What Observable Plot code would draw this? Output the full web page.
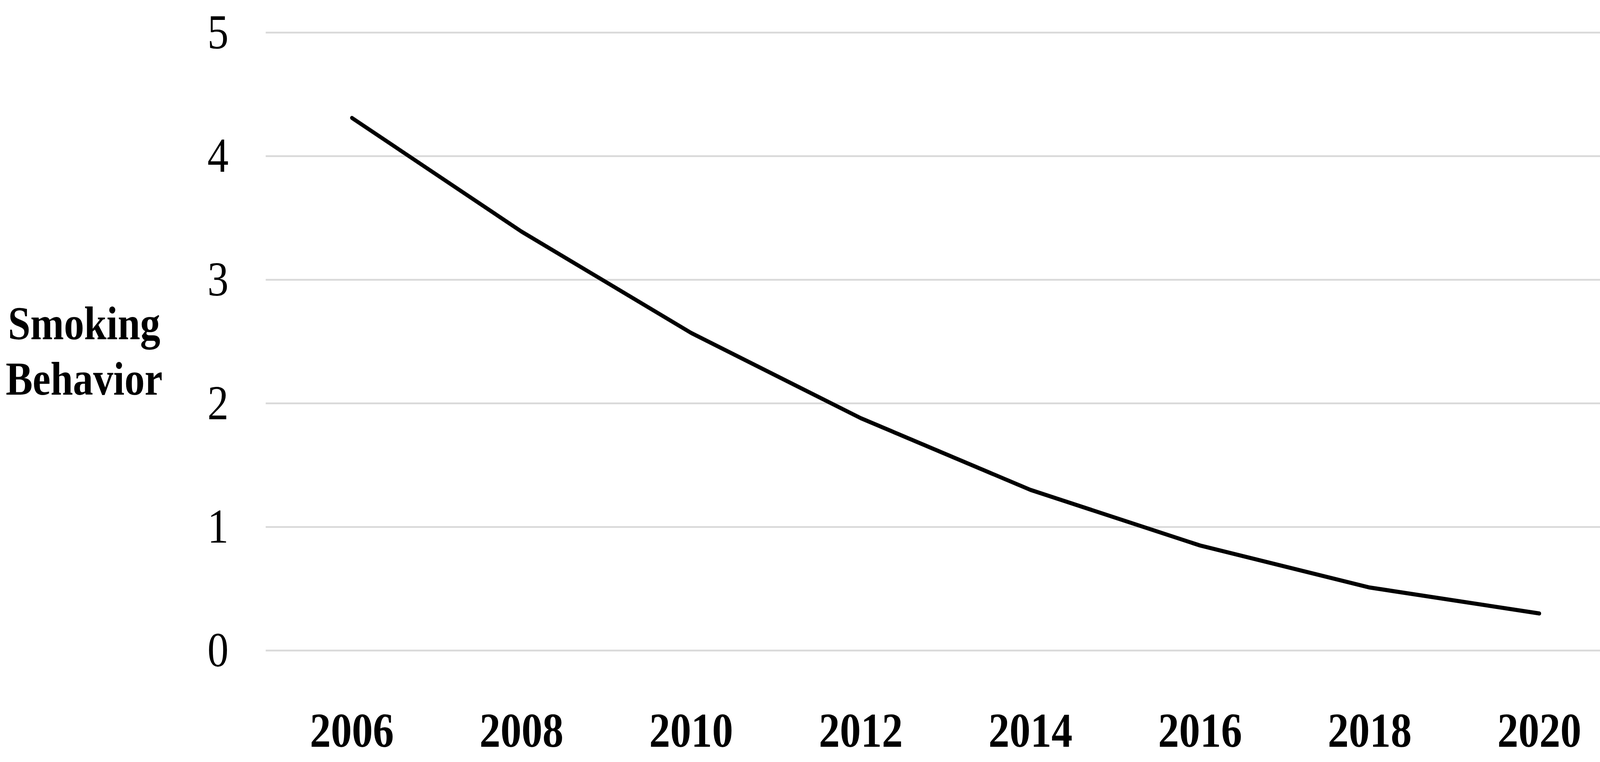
<!DOCTYPE html>
<html>
<head>
<meta charset="utf-8">
<script src="https://cdn.jsdelivr.net/npm/d3@7"></script>
<script src="https://cdn.jsdelivr.net/npm/@observablehq/plot@0.6"></script>
<style>
  html, body { margin: 0; padding: 0; background: #ffffff; overflow: hidden; }
  #chart svg { display: block; }
</style>
</head>
<body>
<div id="chart"></div>
<script>
const years = ["2006", "2008", "2010", "2012", "2014", "2016", "2018", "2020"];
const smoking = [4.31, 3.39, 2.57, 1.88, 1.30, 0.85, 0.51, 0.30];
const yTicks = [0, 1, 2, 3, 4, 5];
const yTitle = "Smoking\nBehavior";

const rows = years.map((year, i) => ({year, value: smoking[i]}));

// Design space matches the reference picture (4763 x 1952)
const DW = 4763, DH = 1952;

const chart = Plot.plot({
  width: DW,
  height: DH,
  marginLeft: 791,
  marginRight: 0,
  marginTop: 83,
  marginBottom: 286,
  style: {fontFamily: "'Liberation Serif', 'Times New Roman', serif", background: "#ffffff", color: "#000000"},
  x: {type: "point", domain: years, range: [1045, 4583], padding: 0, label: null},
  y: {domain: [0, 5], label: null},
  marks: [
    Plot.ruleY(yTicks, {stroke: "#d9d9d9", strokeWidth: 4.5}),
    Plot.axisY(yTicks, {tickSize: 0, tickPadding: 111, fontSize: 126, tickFormat: d3.format("d"), label: null, fill: "#000000"}),
    Plot.axisX({tickSize: 0, tickPadding: 158, fontSize: 125, fontWeight: "bold", label: null, fill: "#000000"}),
    Plot.line(rows, {x: "year", y: "value", stroke: "#000000", strokeWidth: 10.5, strokeLinecap: "round", strokeLinejoin: "round"}),
    Plot.text([yTitle], {frameAnchor: "left", dx: -541, dy: 19.5, textAnchor: "middle", fontSize: 120, fontWeight: "bold", lineHeight: 1.183, fill: "#000000"})
  ]
});

// Fit the design exactly to the actual viewport
const W = document.documentElement.clientWidth || window.innerWidth || DW;
const H = window.innerHeight || DH;
chart.setAttribute("viewBox", `0 0 ${DW} ${DH}`);
chart.setAttribute("preserveAspectRatio", "none");
chart.setAttribute("width", W);
chart.setAttribute("height", H);
chart.style.width = W + "px";
chart.style.height = H + "px";
chart.style.maxWidth = "none";
document.getElementById("chart").appendChild(chart);
</script>
</body>
</html>
